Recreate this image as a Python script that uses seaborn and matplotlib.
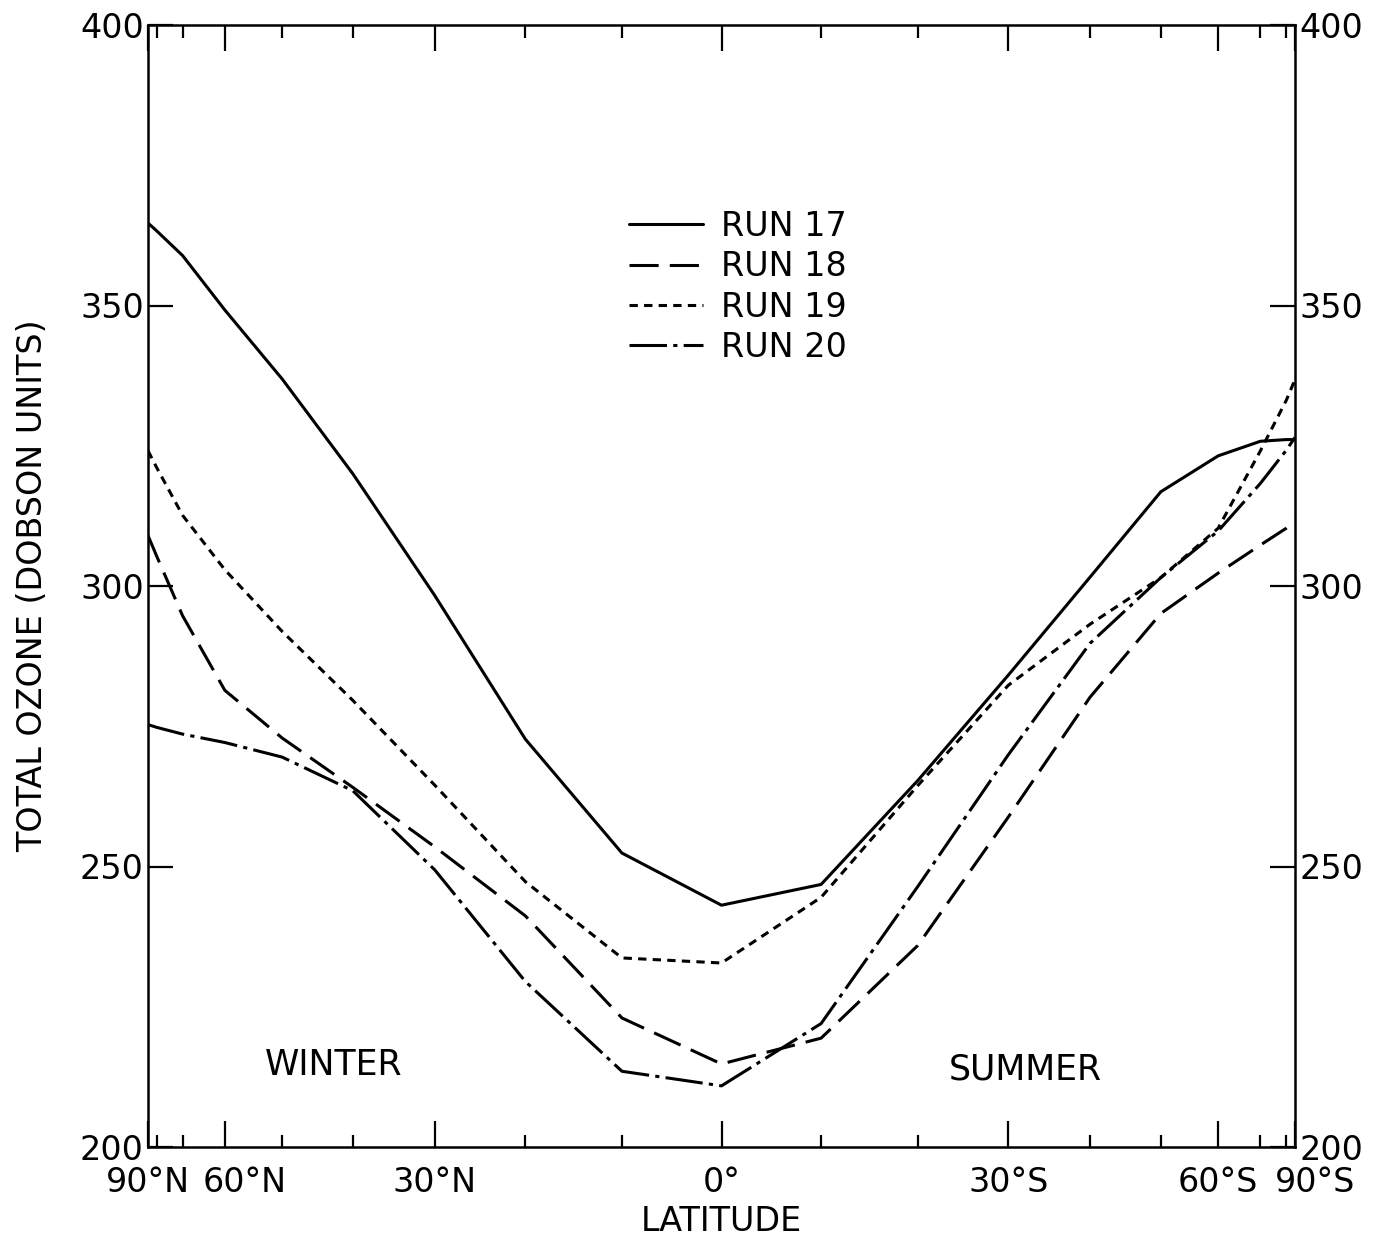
import numpy as np
import seaborn as sns
import matplotlib.pyplot as plt
from matplotlib.ticker import FixedLocator
from matplotlib.transforms import ScaledTranslation

# latitude in degrees, negative = north, positive = south
lat = [-90, -80, -70, -60, -50, -40, -30, -20, -10, 0, 10, 20, 30, 40, 50, 60, 70, 80, 90]

run17 = [364.7, 363.3, 358.9, 349.2, 336.9, 320.0, 298.3, 272.7, 252.4, 243.1,
         246.8, 265.3, 284.1, 301.6, 316.8, 323.2, 325.8, 326.1, 326.1]
run18 = [309.0, 305.3, 294.7, 281.4, 272.9, 264.1, 253.5, 241.2, 223.0, 214.8,
         219.4, 235.9, 258.8, 280.2, 295.1, 302.3, 307.3, 310.3, 311.7]
run19 = [324.1, 321.1, 312.6, 302.9, 291.9, 279.6, 264.5, 247.3, 233.7, 232.8,
         244.5, 264.4, 282.3, 293.2, 301.5, 310.3, 324.1, 333.1, 336.8]
run20 = [275.3, 274.8, 273.6, 272.1, 269.5, 263.5, 249.4, 229.5, 213.5, 210.9,
         222.0, 246.4, 269.9, 289.8, 301.5, 309.8, 318.3, 324.2, 326.5]

run_labels = ["RUN 17", "RUN 18", "RUN 19", "RUN 20"]

xtick_pos = [-90, -60, -30, 0, 30, 60, 90]
xtick_labels = ["90°N", "60°N", "30°N", "0°", "30°S", "60°S", "90°S"]
xminor_pos = [-80, -70, -50, -40, -20, -10, 10, 20, 40, 50, 70, 80]
yticks = [200, 250, 300, 350, 400]

sns.set_theme(style="white")
plt.rcParams['font.family'] = ['DejaVu Sans']
plt.rcParams['lines.scale_dashes'] = False
for k in ['text.color', 'axes.labelcolor', 'xtick.color', 'ytick.color']:
    plt.rcParams[k] = 'black'

fig = plt.figure(figsize=(13.91, 12.47), dpi=100)
ax = fig.add_axes([148 / 1391, 1 - 1147 / 1247, (1295 - 148) / 1391, (1147 - 25) / 1247])


def fwd(x):
    return np.sin(np.radians(x))


def inv(x):
    return np.degrees(np.arcsin(np.clip(x, -1, 1)))


ax.set_xscale('function', functions=(fwd, inv))

styles = ['-', (0, (21, 8)), (0, (6, 4.5)), (0, (27, 4.5, 3, 4.5))]
for vals, lab, ls in zip([run17, run18, run19, run20], run_labels, styles):
    sns.lineplot(x=lat, y=vals, ax=ax, color='black', linewidth=2.2,
                 linestyle=ls, label=lab, legend=False)

ax.set_xlim(-90, 90)
ax.set_ylim(200, 400)

ax.xaxis.set_major_locator(FixedLocator(xtick_pos))
ax.xaxis.set_minor_locator(FixedLocator(xminor_pos))
ax.set_xticklabels(xtick_labels)
ax.set_yticks(yticks)
ax.set_yticklabels([str(v) for v in yticks])

ax.tick_params(axis='x', which='major', direction='in', length=19, width=1.6,
               top=True, bottom=True, labelsize=24, pad=14)
ax.tick_params(axis='x', which='minor', direction='in', length=9, width=1.6,
               top=True, bottom=True)
ax.tick_params(axis='y', which='major', direction='in', length=18, width=1.6,
               left=True, right=True, labelleft=True, labelright=True,
               labelsize=24, pad=3)

for sp in ax.spines.values():
    sp.set_linewidth(1.8)
    sp.set_color('black')

# nudge crowded labels to the right like the original
for lbl in ax.get_xticklabels():
    if lbl.get_text() in ("60°N", "90°S"):
        lbl.set_transform(lbl.get_transform() + ScaledTranslation(0.2, 0, fig.dpi_scale_trans))

ax.set_xlabel("LATITUDE", fontsize=24, labelpad=4)
ax.set_ylabel("TOTAL OZONE (DOBSON UNITS)", fontsize=24, labelpad=22)

ax.text(0.162, 0.073, "WINTER", transform=ax.transAxes, fontsize=25,
        ha='center', va='center')
ax.text(0.765, 0.069, "SUMMER", transform=ax.transAxes, fontsize=25,
        ha='center', va='center')

ax.legend(loc='upper left', bbox_to_anchor=(0.405, 0.85), frameon=False,
          fontsize=24, handlelength=2.2, handletextpad=0.55, labelspacing=0.22,
          borderpad=0)

fig.savefig("out.png", dpi=100, facecolor='white')
